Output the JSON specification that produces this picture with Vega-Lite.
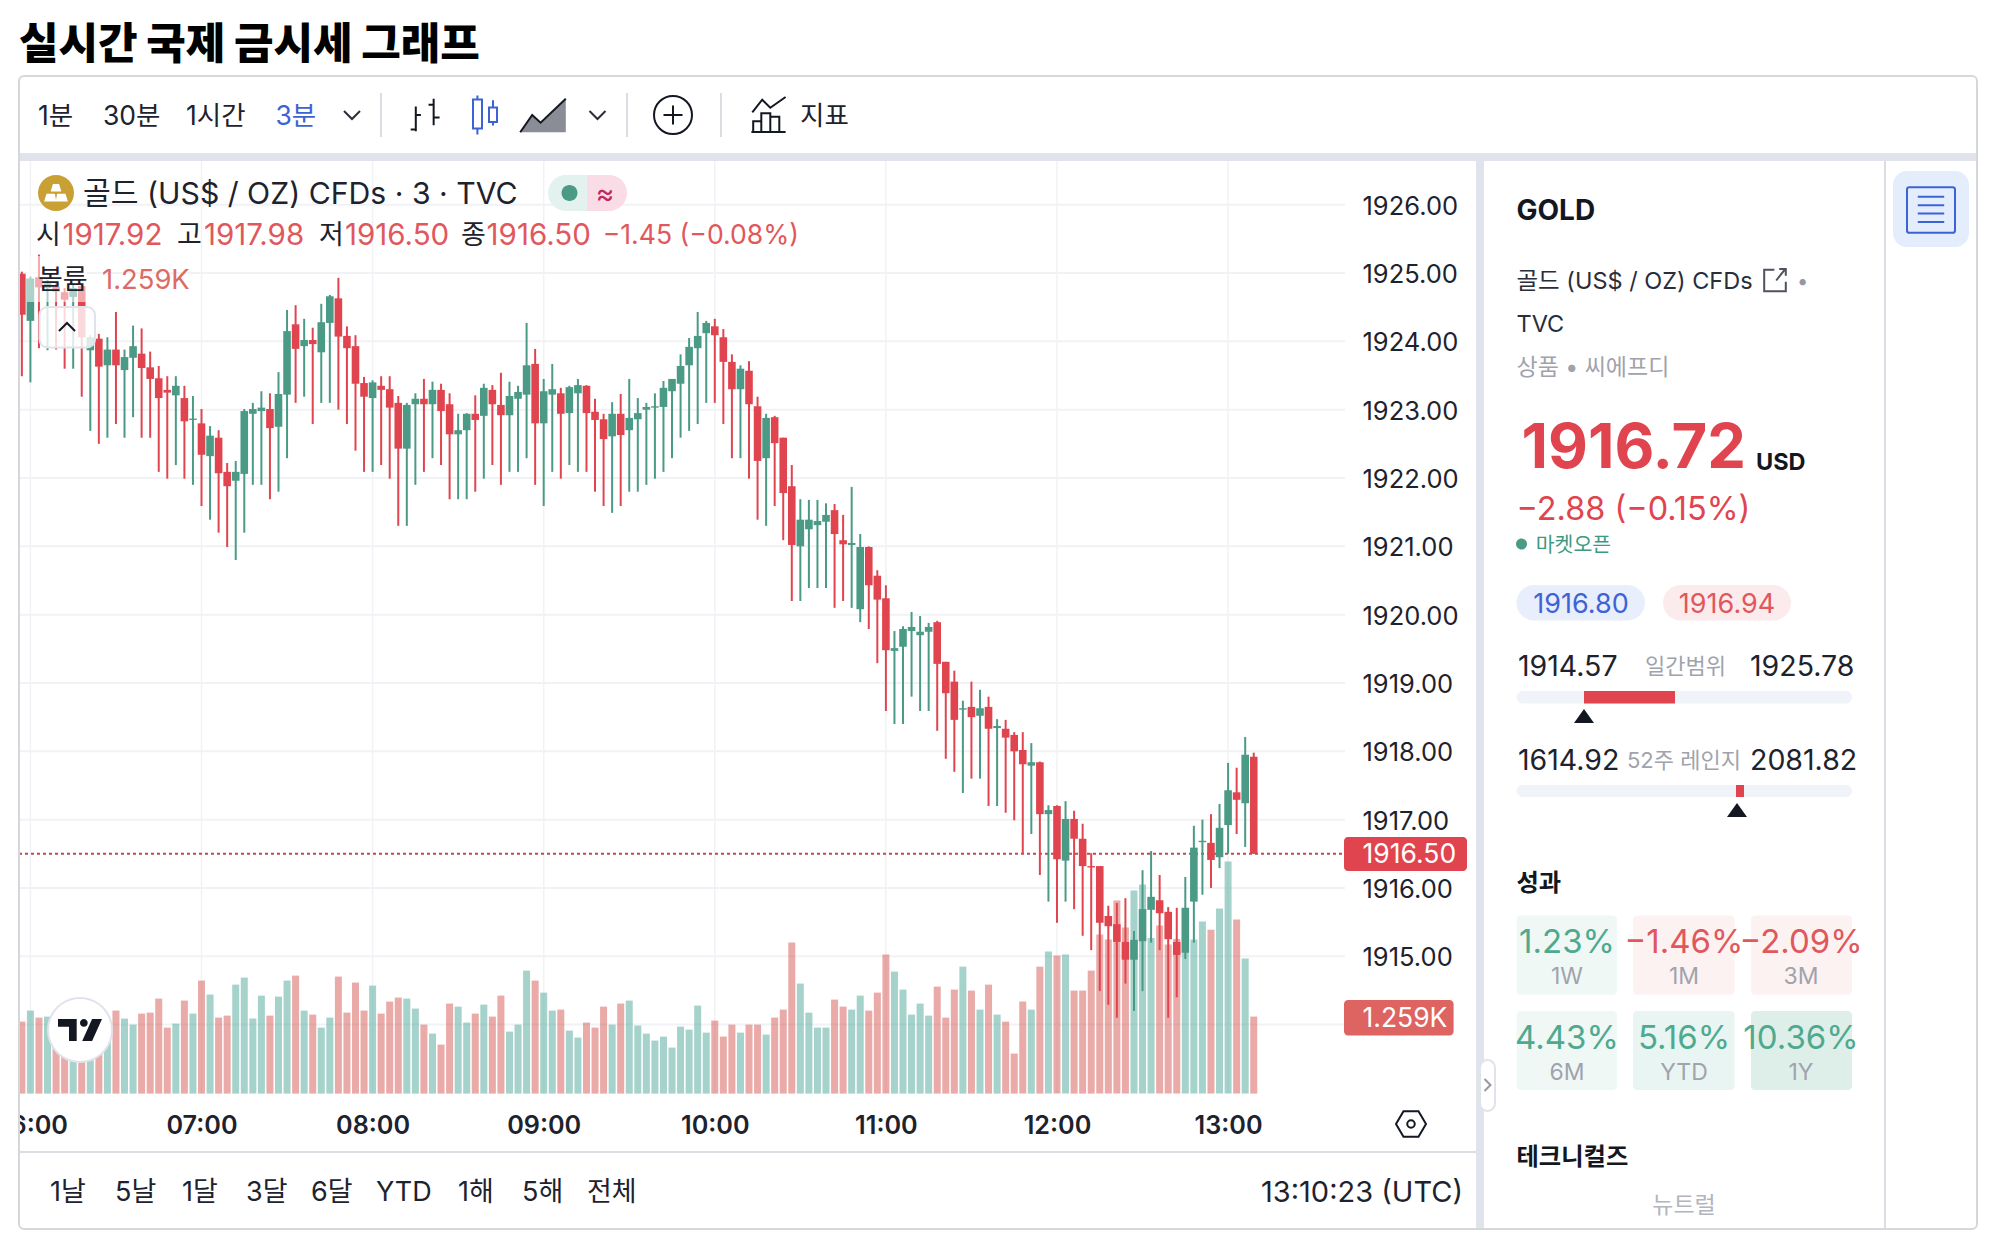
{
"$schema":"https://vega.github.io/schema/vega-lite/v6.json",
"width":2006,"height":1244,"autosize":{"type":"none"},"padding":0,"background":"#ffffff",
"config":{"view":{"stroke":null},"font":"Inter, 'Noto Sans CJK KR'"},
"datasets":{"bars":[
{"t":"2023-10-03T05:57Z","o":1924.99,"h":1925.02,"l":1923.49,"c":1924.39,"v":1177},
{"t":"2023-10-03T06:00Z","o":1924.30,"h":1924.95,"l":1923.40,"c":1924.92,"v":1357},
{"t":"2023-10-03T06:03Z","o":1924.94,"h":1925.27,"l":1923.90,"c":1924.79,"v":1243},
{"t":"2023-10-03T06:06Z","o":1924.78,"h":1924.90,"l":1923.87,"c":1924.85,"v":1259},
{"t":"2023-10-03T06:09Z","o":1924.80,"h":1924.85,"l":1923.88,"c":1924.73,"v":1046},
{"t":"2023-10-03T06:12Z","o":1924.72,"h":1924.78,"l":1923.60,"c":1924.61,"v":937},
{"t":"2023-10-03T06:15Z","o":1924.65,"h":1924.83,"l":1923.60,"c":1924.78,"v":1046},
{"t":"2023-10-03T06:18Z","o":1924.81,"h":1924.83,"l":1923.19,"c":1924.06,"v":1046},
{"t":"2023-10-03T06:21Z","o":1923.87,"h":1924.09,"l":1922.69,"c":1924.06,"v":1046},
{"t":"2023-10-03T06:24Z","o":1924.04,"h":1924.11,"l":1922.50,"c":1923.63,"v":992},
{"t":"2023-10-03T06:27Z","o":1923.65,"h":1924.06,"l":1922.59,"c":1923.88,"v":965},
{"t":"2023-10-03T06:30Z","o":1923.88,"h":1924.43,"l":1922.79,"c":1923.65,"v":1357},
{"t":"2023-10-03T06:33Z","o":1923.58,"h":1923.88,"l":1922.59,"c":1923.77,"v":1226},
{"t":"2023-10-03T06:36Z","o":1923.76,"h":1924.23,"l":1922.89,"c":1923.93,"v":1128},
{"t":"2023-10-03T06:39Z","o":1923.82,"h":1924.19,"l":1922.59,"c":1923.61,"v":1308},
{"t":"2023-10-03T06:42Z","o":1923.62,"h":1923.85,"l":1922.59,"c":1923.45,"v":1324},
{"t":"2023-10-03T06:45Z","o":1923.46,"h":1923.64,"l":1922.09,"c":1923.17,"v":1553},
{"t":"2023-10-03T06:48Z","o":1923.29,"h":1923.49,"l":1921.99,"c":1923.25,"v":1079},
{"t":"2023-10-03T06:51Z","o":1923.21,"h":1923.49,"l":1922.19,"c":1923.35,"v":1145},
{"t":"2023-10-03T06:54Z","o":1923.17,"h":1923.35,"l":1921.99,"c":1922.83,"v":1521},
{"t":"2023-10-03T06:57Z","o":1922.85,"h":1923.20,"l":1921.90,"c":1922.87,"v":1308},
{"t":"2023-10-03T07:00Z","o":1922.80,"h":1923.01,"l":1921.59,"c":1922.34,"v":1848},
{"t":"2023-10-03T07:03Z","o":1922.32,"h":1922.76,"l":1921.39,"c":1922.62,"v":1619},
{"t":"2023-10-03T07:06Z","o":1922.59,"h":1922.70,"l":1921.20,"c":1922.07,"v":1243},
{"t":"2023-10-03T07:09Z","o":1922.09,"h":1922.22,"l":1920.99,"c":1921.88,"v":1275},
{"t":"2023-10-03T07:12Z","o":1921.96,"h":1922.25,"l":1920.80,"c":1922.09,"v":1782},
{"t":"2023-10-03T07:15Z","o":1922.06,"h":1923.01,"l":1921.20,"c":1922.98,"v":1897},
{"t":"2023-10-03T07:18Z","o":1922.94,"h":1923.10,"l":1921.90,"c":1923.01,"v":1226},
{"t":"2023-10-03T07:21Z","o":1922.98,"h":1923.27,"l":1921.90,"c":1923.03,"v":1602},
{"t":"2023-10-03T07:24Z","o":1923.01,"h":1923.24,"l":1921.69,"c":1922.73,"v":1275},
{"t":"2023-10-03T07:27Z","o":1922.75,"h":1923.55,"l":1921.80,"c":1923.23,"v":1586},
{"t":"2023-10-03T07:30Z","o":1923.22,"h":1924.46,"l":1922.29,"c":1924.15,"v":1848},
{"t":"2023-10-03T07:33Z","o":1924.25,"h":1924.53,"l":1923.10,"c":1923.89,"v":1929},
{"t":"2023-10-03T07:36Z","o":1923.93,"h":1924.33,"l":1923.19,"c":1924.02,"v":1357},
{"t":"2023-10-03T07:39Z","o":1924.02,"h":1924.20,"l":1922.79,"c":1923.96,"v":1292},
{"t":"2023-10-03T07:42Z","o":1923.84,"h":1924.55,"l":1923.10,"c":1924.28,"v":1079},
{"t":"2023-10-03T07:45Z","o":1924.27,"h":1924.68,"l":1923.10,"c":1924.66,"v":1243},
{"t":"2023-10-03T07:48Z","o":1924.63,"h":1924.93,"l":1923.00,"c":1924.07,"v":1913},
{"t":"2023-10-03T07:51Z","o":1924.08,"h":1924.22,"l":1922.79,"c":1923.90,"v":1324},
{"t":"2023-10-03T07:54Z","o":1923.93,"h":1924.09,"l":1922.40,"c":1923.38,"v":1815},
{"t":"2023-10-03T07:57Z","o":1923.39,"h":1923.48,"l":1922.09,"c":1923.19,"v":1357},
{"t":"2023-10-03T08:00Z","o":1923.17,"h":1923.43,"l":1922.09,"c":1923.40,"v":1766},
{"t":"2023-10-03T08:03Z","o":1923.35,"h":1923.49,"l":1922.19,"c":1923.29,"v":1308},
{"t":"2023-10-03T08:06Z","o":1923.30,"h":1923.49,"l":1921.99,"c":1923.03,"v":1504},
{"t":"2023-10-03T08:09Z","o":1923.10,"h":1923.20,"l":1921.30,"c":1922.43,"v":1570},
{"t":"2023-10-03T08:12Z","o":1922.43,"h":1923.10,"l":1921.30,"c":1923.07,"v":1553},
{"t":"2023-10-03T08:15Z","o":1923.08,"h":1923.24,"l":1921.90,"c":1923.16,"v":1390},
{"t":"2023-10-03T08:18Z","o":1923.16,"h":1923.45,"l":1922.09,"c":1923.08,"v":1128},
{"t":"2023-10-03T08:21Z","o":1923.08,"h":1923.41,"l":1922.29,"c":1923.29,"v":981},
{"t":"2023-10-03T08:24Z","o":1923.29,"h":1923.38,"l":1922.19,"c":1922.98,"v":801},
{"t":"2023-10-03T08:27Z","o":1923.08,"h":1923.24,"l":1921.69,"c":1922.64,"v":1472},
{"t":"2023-10-03T08:30Z","o":1922.64,"h":1922.94,"l":1921.69,"c":1922.70,"v":1422},
{"t":"2023-10-03T08:33Z","o":1922.70,"h":1922.95,"l":1921.69,"c":1922.94,"v":1161},
{"t":"2023-10-03T08:36Z","o":1922.94,"h":1923.21,"l":1921.80,"c":1922.85,"v":1308},
{"t":"2023-10-03T08:39Z","o":1922.91,"h":1923.38,"l":1921.99,"c":1923.32,"v":1455},
{"t":"2023-10-03T08:42Z","o":1923.29,"h":1923.36,"l":1922.19,"c":1923.08,"v":1259},
{"t":"2023-10-03T08:45Z","o":1923.07,"h":1923.54,"l":1921.90,"c":1922.92,"v":1602},
{"t":"2023-10-03T08:48Z","o":1922.92,"h":1923.41,"l":1922.09,"c":1923.20,"v":1014},
{"t":"2023-10-03T08:51Z","o":1923.16,"h":1923.35,"l":1922.09,"c":1923.26,"v":1128},
{"t":"2023-10-03T08:54Z","o":1923.22,"h":1924.27,"l":1922.29,"c":1923.65,"v":2011},
{"t":"2023-10-03T08:57Z","o":1923.67,"h":1923.89,"l":1921.90,"c":1922.80,"v":1848},
{"t":"2023-10-03T09:00Z","o":1922.80,"h":1923.45,"l":1921.59,"c":1923.27,"v":1651},
{"t":"2023-10-03T09:03Z","o":1923.22,"h":1923.67,"l":1922.09,"c":1923.30,"v":1357},
{"t":"2023-10-03T09:06Z","o":1923.24,"h":1923.32,"l":1921.99,"c":1922.94,"v":1373},
{"t":"2023-10-03T09:09Z","o":1922.95,"h":1923.35,"l":1922.19,"c":1923.33,"v":1030},
{"t":"2023-10-03T09:12Z","o":1923.24,"h":1923.45,"l":1922.09,"c":1923.36,"v":916},
{"t":"2023-10-03T09:15Z","o":1923.35,"h":1923.36,"l":1922.09,"c":1922.95,"v":1161},
{"t":"2023-10-03T09:18Z","o":1922.97,"h":1923.16,"l":1921.80,"c":1922.85,"v":1079},
{"t":"2023-10-03T09:21Z","o":1922.86,"h":1922.94,"l":1921.59,"c":1922.57,"v":1422},
{"t":"2023-10-03T09:24Z","o":1922.61,"h":1923.11,"l":1921.49,"c":1922.94,"v":1128},
{"t":"2023-10-03T09:27Z","o":1922.94,"h":1923.23,"l":1921.59,"c":1922.63,"v":1472},
{"t":"2023-10-03T09:30Z","o":1922.70,"h":1923.45,"l":1921.80,"c":1922.88,"v":1521},
{"t":"2023-10-03T09:33Z","o":1922.86,"h":1923.17,"l":1921.80,"c":1922.95,"v":1112},
{"t":"2023-10-03T09:36Z","o":1923.00,"h":1923.10,"l":1921.90,"c":1923.04,"v":981},
{"t":"2023-10-03T09:39Z","o":1923.03,"h":1923.24,"l":1921.99,"c":1923.05,"v":867},
{"t":"2023-10-03T09:42Z","o":1923.04,"h":1923.42,"l":1922.09,"c":1923.32,"v":932},
{"t":"2023-10-03T09:45Z","o":1923.27,"h":1923.45,"l":1922.29,"c":1923.45,"v":752},
{"t":"2023-10-03T09:48Z","o":1923.38,"h":1923.81,"l":1922.59,"c":1923.64,"v":1095},
{"t":"2023-10-03T09:51Z","o":1923.65,"h":1924.05,"l":1922.69,"c":1923.92,"v":1046},
{"t":"2023-10-03T09:54Z","o":1923.90,"h":1924.43,"l":1922.79,"c":1924.08,"v":1439},
{"t":"2023-10-03T09:57Z","o":1924.12,"h":1924.30,"l":1923.10,"c":1924.27,"v":997},
{"t":"2023-10-03T10:00Z","o":1924.22,"h":1924.33,"l":1923.10,"c":1924.09,"v":1194},
{"t":"2023-10-03T10:03Z","o":1924.06,"h":1924.18,"l":1922.79,"c":1923.70,"v":932},
{"t":"2023-10-03T10:06Z","o":1923.70,"h":1923.81,"l":1922.29,"c":1923.30,"v":1128},
{"t":"2023-10-03T10:09Z","o":1923.30,"h":1923.65,"l":1922.29,"c":1923.60,"v":997},
{"t":"2023-10-03T10:12Z","o":1923.57,"h":1923.71,"l":1921.99,"c":1923.08,"v":1128},
{"t":"2023-10-03T10:15Z","o":1923.05,"h":1923.19,"l":1921.39,"c":1922.25,"v":1128},
{"t":"2023-10-03T10:18Z","o":1922.29,"h":1922.94,"l":1921.30,"c":1922.88,"v":965},
{"t":"2023-10-03T10:21Z","o":1922.89,"h":1922.91,"l":1921.59,"c":1922.51,"v":1243},
{"t":"2023-10-03T10:24Z","o":1922.59,"h":1922.59,"l":1921.09,"c":1921.78,"v":1373},
{"t":"2023-10-03T10:27Z","o":1921.88,"h":1922.19,"l":1920.20,"c":1921.02,"v":2469},
{"t":"2023-10-03T10:30Z","o":1921.00,"h":1921.69,"l":1920.20,"c":1921.39,"v":1799},
{"t":"2023-10-03T10:33Z","o":1921.25,"h":1921.68,"l":1920.39,"c":1921.39,"v":1324},
{"t":"2023-10-03T10:36Z","o":1921.31,"h":1921.68,"l":1920.39,"c":1921.37,"v":1079},
{"t":"2023-10-03T10:39Z","o":1921.36,"h":1921.63,"l":1920.39,"c":1921.46,"v":1079},
{"t":"2023-10-03T10:42Z","o":1921.53,"h":1921.62,"l":1920.10,"c":1921.18,"v":1537},
{"t":"2023-10-03T10:45Z","o":1921.09,"h":1921.46,"l":1920.20,"c":1921.03,"v":1422},
{"t":"2023-10-03T10:48Z","o":1921.02,"h":1921.87,"l":1920.10,"c":1921.05,"v":1373},
{"t":"2023-10-03T10:51Z","o":1920.08,"h":1921.18,"l":1919.89,"c":1920.99,"v":1602},
{"t":"2023-10-03T10:54Z","o":1920.99,"h":1921.00,"l":1919.79,"c":1920.43,"v":1357},
{"t":"2023-10-03T10:57Z","o":1920.57,"h":1920.65,"l":1919.29,"c":1920.22,"v":1651},
{"t":"2023-10-03T11:00Z","o":1920.24,"h":1920.43,"l":1918.59,"c":1919.48,"v":2273},
{"t":"2023-10-03T11:03Z","o":1919.47,"h":1919.76,"l":1918.40,"c":1919.51,"v":1995},
{"t":"2023-10-03T11:06Z","o":1919.53,"h":1919.83,"l":1918.40,"c":1919.79,"v":1700},
{"t":"2023-10-03T11:09Z","o":1919.76,"h":1920.04,"l":1918.80,"c":1919.82,"v":1292},
{"t":"2023-10-03T11:12Z","o":1919.70,"h":1919.98,"l":1918.59,"c":1919.75,"v":1472},
{"t":"2023-10-03T11:15Z","o":1919.75,"h":1919.88,"l":1918.59,"c":1919.82,"v":1275},
{"t":"2023-10-03T11:18Z","o":1919.89,"h":1919.91,"l":1918.30,"c":1919.28,"v":1749},
{"t":"2023-10-03T11:21Z","o":1919.31,"h":1919.31,"l":1917.89,"c":1918.85,"v":1243},
{"t":"2023-10-03T11:24Z","o":1919.02,"h":1919.18,"l":1917.70,"c":1918.46,"v":1700},
{"t":"2023-10-03T11:27Z","o":1918.61,"h":1918.74,"l":1917.39,"c":1918.63,"v":2076},
{"t":"2023-10-03T11:30Z","o":1918.65,"h":1919.02,"l":1917.60,"c":1918.50,"v":1684},
{"t":"2023-10-03T11:33Z","o":1918.52,"h":1918.90,"l":1917.60,"c":1918.63,"v":1373},
{"t":"2023-10-03T11:36Z","o":1918.65,"h":1918.80,"l":1917.20,"c":1918.33,"v":1782},
{"t":"2023-10-03T11:39Z","o":1918.34,"h":1918.47,"l":1917.20,"c":1918.37,"v":1292},
{"t":"2023-10-03T11:42Z","o":1918.33,"h":1918.46,"l":1917.10,"c":1918.20,"v":1177},
{"t":"2023-10-03T11:45Z","o":1918.24,"h":1918.28,"l":1916.99,"c":1918.00,"v":654},
{"t":"2023-10-03T11:48Z","o":1918.02,"h":1918.28,"l":1916.50,"c":1917.81,"v":1504},
{"t":"2023-10-03T11:51Z","o":1917.79,"h":1918.12,"l":1916.79,"c":1917.84,"v":1373},
{"t":"2023-10-03T11:54Z","o":1917.84,"h":1917.85,"l":1916.19,"c":1917.08,"v":2076},
{"t":"2023-10-03T11:57Z","o":1917.08,"h":1917.21,"l":1915.80,"c":1917.14,"v":2322},
{"t":"2023-10-03T12:00Z","o":1917.20,"h":1917.21,"l":1915.49,"c":1916.42,"v":2256},
{"t":"2023-10-03T12:03Z","o":1916.40,"h":1917.27,"l":1915.80,"c":1917.01,"v":2273},
{"t":"2023-10-03T12:06Z","o":1917.01,"h":1917.13,"l":1915.69,"c":1916.72,"v":1684},
{"t":"2023-10-03T12:09Z","o":1916.72,"h":1916.94,"l":1915.30,"c":1916.32,"v":1684},
{"t":"2023-10-03T12:12Z","o":1916.32,"h":1916.51,"l":1915.09,"c":1916.30,"v":2011},
{"t":"2023-10-03T12:15Z","o":1916.32,"h":1916.32,"l":1914.49,"c":1915.49,"v":2600},
{"t":"2023-10-03T12:18Z","o":1915.59,"h":1915.74,"l":1914.29,"c":1915.44,"v":2518},
{"t":"2023-10-03T12:21Z","o":1915.47,"h":1915.78,"l":1914.10,"c":1915.21,"v":3156},
{"t":"2023-10-03T12:24Z","o":1915.21,"h":1915.85,"l":1914.60,"c":1914.95,"v":2714},
{"t":"2023-10-03T12:27Z","o":1914.95,"h":1915.37,"l":1914.20,"c":1915.24,"v":3319},
{"t":"2023-10-03T12:30Z","o":1915.22,"h":1916.26,"l":1914.49,"c":1915.69,"v":3417},
{"t":"2023-10-03T12:33Z","o":1915.68,"h":1916.54,"l":1915.20,"c":1915.87,"v":2545},
{"t":"2023-10-03T12:36Z","o":1915.82,"h":1916.19,"l":1915.09,"c":1915.63,"v":2747},
{"t":"2023-10-03T12:39Z","o":1915.65,"h":1915.72,"l":1914.10,"c":1915.25,"v":2436},
{"t":"2023-10-03T12:42Z","o":1915.21,"h":1915.71,"l":1914.40,"c":1915.02,"v":2529},
{"t":"2023-10-03T12:45Z","o":1915.05,"h":1916.16,"l":1914.96,"c":1915.71,"v":2300},
{"t":"2023-10-03T12:48Z","o":1915.80,"h":1916.91,"l":1915.20,"c":1916.59,"v":2518},
{"t":"2023-10-03T12:51Z","o":1916.67,"h":1917.00,"l":1915.90,"c":1916.69,"v":2812},
{"t":"2023-10-03T12:54Z","o":1916.66,"h":1917.08,"l":1916.00,"c":1916.41,"v":2681},
{"t":"2023-10-03T12:57Z","o":1916.45,"h":1917.23,"l":1916.29,"c":1916.88,"v":3025},
{"t":"2023-10-03T13:00Z","o":1916.92,"h":1917.83,"l":1916.50,"c":1917.43,"v":3793},
{"t":"2023-10-03T13:03Z","o":1917.40,"h":1917.76,"l":1916.79,"c":1917.29,"v":2845},
{"t":"2023-10-03T13:06Z","o":1917.24,"h":1918.21,"l":1916.60,"c":1917.95,"v":2207},
{"t":"2023-10-03T13:09Z","o":1917.92,"h":1917.98,"l":1916.50,"c":1916.50,"v":1259}
],
"levels":[
{"p":1914,"a":"2023-10-03T05:56Z","b":"2023-10-03T13:41Z"},{"p":1915,"a":"2023-10-03T05:56Z","b":"2023-10-03T13:41Z"},{"p":1916,"a":"2023-10-03T05:56Z","b":"2023-10-03T13:41Z"},{"p":1917,"a":"2023-10-03T05:56Z","b":"2023-10-03T13:41Z"},{"p":1918,"a":"2023-10-03T05:56Z","b":"2023-10-03T13:41Z"},{"p":1919,"a":"2023-10-03T05:56Z","b":"2023-10-03T13:41Z"},{"p":1920,"a":"2023-10-03T05:56Z","b":"2023-10-03T13:41Z"},{"p":1921,"a":"2023-10-03T05:56Z","b":"2023-10-03T13:41Z"},{"p":1922,"a":"2023-10-03T05:56Z","b":"2023-10-03T13:41Z"},{"p":1923,"a":"2023-10-03T05:56Z","b":"2023-10-03T13:41Z"},{"p":1924,"a":"2023-10-03T05:56Z","b":"2023-10-03T13:41Z"},{"p":1925,"a":"2023-10-03T05:56Z","b":"2023-10-03T13:41Z"},{"p":1926,"a":"2023-10-03T05:56Z","b":"2023-10-03T13:41Z"}
],
"last":[{"p":1916.5,"a":"2023-10-03T05:56Z","b":"2023-10-03T13:41Z"}],
"hours":[{"t":"2023-10-03T06:00Z"},{"t":"2023-10-03T07:00Z"},{"t":"2023-10-03T08:00Z"},{"t":"2023-10-03T09:00Z"},{"t":"2023-10-03T10:00Z"},{"t":"2023-10-03T11:00Z"},{"t":"2023-10-03T12:00Z"},{"t":"2023-10-03T13:00Z"}],
"ui":[
{"g":"r18","k":"pg","c":36,"c2":38,"r":9,"r2":12},{"g":"r18","k":"pp","c":38,"c2":42,"r":9,"r2":12},{"g":"r18","k":"bidbg","c":57,"c2":67,"r":28,"r2":30},{"g":"r18","k":"askbg","c":68,"c2":80,"r":28,"r2":30},
{"g":"r6","k":"trk","c":57,"c2":83,"r":32,"r2":33},{"g":"r6","k":"trk","c":57,"c2":83,"r":36,"r2":37},
{"g":"r12","k":"lst","c":85,"c2":87,"r":8,"r2":14},
{"g":"r4","k":"ce1","c":57,"c2":64,"r":43,"r2":46},{"g":"r4","k":"ce2","c":66,"c2":72,"r":43,"r2":46},{"g":"r4","k":"ce2","c":77,"c2":83,"r":43,"r2":46},
{"g":"r4","k":"ce1","c":57,"c2":64,"r":48,"r2":56},{"g":"r4","k":"ce3","c":66,"c2":72,"r":48,"r2":56},{"g":"r4","k":"ce4","c":77,"c2":83,"r":48,"r2":56},
{"g":"r4","k":"ptag","c":48,"c2":51,"r":39,"r2":41},{"g":"r4","k":"vtag","c":48,"c2":50,"r":47,"r2":51},
{"g":"r0","k":"strip","c":1,"c2":88,"r":6,"r2":7},{"g":"r0","k":"strip","c":52,"c2":54,"r":7,"r2":63},{"g":"r0","k":"veil","c":2,"c2":12,"r":15,"r2":18},{"g":"r0","k":"white","c":0,"c2":1,"r":7,"r2":63},
{"g":"r0","k":"pg","c":37,"c2":38,"r":9,"r2":12},{"g":"r0","k":"pp","c":38,"c2":41,"r":9,"r2":12},{"g":"r0","k":"red","c":63,"c2":69,"r":32,"r2":33},{"g":"r0","k":"red","c":73,"c2":75,"r":36,"r2":37},
{"g":"box","k":"veil2","c":5,"c2":13,"r":19,"r2":22},{"g":"box","k":"white","c":53,"c2":56,"r":53,"r2":57},
{"g":"frame","k":"sep","c":1,"c2":88,"r":2,"r2":63},
{"g":"line","k":"sep","c":28,"c2":28,"r":3,"r2":5},{"g":"line","k":"sep","c":42,"c2":42,"r":3,"r2":5},{"g":"line","k":"sep","c":44,"c2":44,"r":3,"r2":5},{"g":"line","k":"sep","c":84,"c2":84,"r":7,"r2":63},{"g":"line","k":"sep","c":1,"c2":52,"r":59,"r2":59},
{"g":"tl","k":"tb","t":"1분","c":4,"r":4},{"g":"tl","k":"tb","t":"30분","c":15,"r":4},{"g":"tl","k":"tb","t":"1시간","c":19,"r":4},{"g":"tl","k":"tba","t":"3분","c":22,"r":4},{"g":"tl","k":"tb","t":"지표","c":46,"r":4},
{"g":"tl","k":"hd","t":"골드 (US$ / OZ) CFDs · 3 · TVC","c":11,"r":10},
{"g":"tl","k":"leg","t":"시","c":3,"r":13},{"g":"tl","k":"lv","t":"1917.92","c":8,"r":13},{"g":"tl","k":"leg","t":"고","c":17,"r":13},{"g":"tl","k":"lv","t":"1917.98","c":20,"r":13},{"g":"tl","k":"leg","t":"저","c":24,"r":13},{"g":"tl","k":"lv","t":"1916.50","c":25,"r":13},{"g":"tl","k":"leg","t":"종","c":31,"r":13},{"g":"tl","k":"lv","t":"1916.50","c":33,"r":13},{"g":"tl","k":"lc","t":"−1.45 (−0.08%)","c":40,"r":13},
{"g":"tl","k":"leg","t":"볼륨","c":4,"r":16},{"g":"tl","k":"vl","t":"1.259K","c":14,"r":16},
{"g":"tl","k":"rg","t":"1날","c":6,"r":61},{"g":"tl","k":"rg","t":"5날","c":16,"r":61},{"g":"tl","k":"rg","t":"1달","c":18,"r":61},{"g":"tl","k":"rg","t":"3달","c":21,"r":61},{"g":"tl","k":"rg","t":"6달","c":23,"r":61},{"g":"tl","k":"rg","t":"YTD","c":27,"r":61},{"g":"tl","k":"rg","t":"1해","c":30,"r":61},{"g":"tl","k":"rg","t":"5해","c":34,"r":61},{"g":"tl","k":"rg","t":"전체","c":38,"r":61},{"g":"tl","k":"clk","t":"13:10:23 (UTC)","c":47,"r":61},
{"g":"tl","k":"tag","t":"1916.50","c":48.5,"r":40},{"g":"tl","k":"tag","t":"1.259K","c":48.5,"r":49},
{"g":"tl","k":"pn","t":"골드 (US$ / OZ) CFDs","c":57,"r":17},{"g":"tl","k":"dotg","t":"•","c":80.5,"r":17},{"g":"tl","k":"pn","t":"TVC","c":57,"r":20},{"g":"tl","k":"gr2","t":"상품 • 씨에프디","c":57,"r":23},
{"g":"tl","k":"chg","t":"−2.88 (−0.15%)","c":57,"r":26},{"g":"tl","k":"mk","t":"마켓오픈","c":60,"r":27},
{"g":"tl","k":"pv","t":"1914.57","c":58,"r":31},{"g":"tl","k":"gr","t":"일간범위","c":67,"r":31},{"g":"tl","k":"pv","t":"1925.78","c":76,"r":31},{"g":"tl","k":"pv","t":"1614.92","c":58,"r":35},{"g":"tl","k":"gr","t":"52주 레인지","c":65,"r":35},{"g":"tl","k":"pv","t":"2081.82","c":76,"r":35},
{"g":"th","k":"ttl","t":"실시간 국제 금시세 그래프","c":1,"r":1},
{"g":"tb","k":"gd","t":"GOLD","c":57,"r":11},{"g":"tb","k":"big","t":"1916.72","c":59,"r":24},{"g":"tb","k":"usd","t":"USD","c":78,"r":25},{"g":"tb","k":"sec","t":"성과","c":57,"r":42},{"g":"tb","k":"sec","t":"테크니컬즈","c":57,"r":60},
{"g":"tc","k":"apx","t":"≈","c":41,"r":10},{"g":"tc","k":"bid","t":"1916.80","c":62,"r":29},{"g":"tc","k":"ask","t":"1916.94","c":71,"r":29},
{"g":"tc","k":"up","t":"1.23%","c":61,"r":44},{"g":"tc","k":"dn","t":"−1.46%","c":70,"r":44},{"g":"tc","k":"dn","t":"−2.09%","c":81,"r":44},{"g":"tc","k":"up","t":"4.43%","c":61,"r":52},{"g":"tc","k":"up","t":"5.16%","c":70,"r":52},{"g":"tc","k":"up","t":"10.36%","c":81,"r":52},
{"g":"tc","k":"sub","t":"1W","c":61,"r":45},{"g":"tc","k":"sub","t":"1M","c":70,"r":45},{"g":"tc","k":"sub","t":"3M","c":81,"r":45},{"g":"tc","k":"sub","t":"6M","c":61,"r":54},{"g":"tc","k":"sub","t":"YTD","c":70,"r":54},{"g":"tc","k":"sub","t":"1Y","c":81,"r":54},{"g":"tc","k":"neu","t":"뉴트럴","c":70,"r":62},
{"g":"icf","k":"gold","c":7,"r":10},{"g":"icf","k":"gbars","c":7,"r":10},{"g":"icf","k":"tvo","c":10,"r":50},{"g":"icf","k":"tvi","c":10,"r":50},{"g":"icf","k":"tvg","c":10,"r":50},{"g":"icf","k":"mdot","c":37,"r":10},{"g":"icf","k":"ldot","c":59,"r":27},{"g":"icf","k":"tri","c":63,"r":34},{"g":"icf","k":"tri","c":74,"r":38},{"g":"icf","k":"arf","c":35,"r":4},
{"g":"ics","k":"chd","c":26,"r":4},{"g":"ics","k":"chd","c":39,"r":4},{"g":"ics","k":"chu","c":9,"r":21},{"g":"ics","k":"chr","c":55,"r":55},{"g":"ics","k":"ohlc","c":29,"r":4},{"g":"ics","k":"cndl","c":32,"r":4},{"g":"ics","k":"area","c":35,"r":4},{"g":"ics","k":"plus","c":43,"r":4},{"g":"ics","k":"ind","c":45,"r":4},{"g":"ics","k":"hex","c":49,"r":58},{"g":"ics","k":"ext","c":79,"r":17},{"g":"ics","k":"list","c":86,"r":11}
]},
"resolve":{"scale":{"x":"independent","y":"independent"}},
"layer":[
{"data":{"name":"levels","format":{"parse":{"a":"date","b":"date"}}},
"mark":{"type":"rule","color":"#f1f2f5","strokeWidth":2},
"encoding":{
"x":{"field":"a","type":"temporal","scale":{"type":"utc","domain":[{"year":2023,"month":10,"date":3,"hours":5,"minutes":56,"utc":true},{"year":2023,"month":10,"date":3,"hours":13,"minutes":41,"utc":true}],"range":[19,1345]},
"axis":{"orient":"bottom","offset":-150,"title":null,"domain":false,"ticks":false,"grid":false,"format":"%H:%M","values":[{"year":2023,"month":10,"date":3,"hours":6,"utc":true},{"year":2023,"month":10,"date":3,"hours":7,"utc":true},{"year":2023,"month":10,"date":3,"hours":8,"utc":true},{"year":2023,"month":10,"date":3,"hours":9,"utc":true},{"year":2023,"month":10,"date":3,"hours":10,"utc":true},{"year":2023,"month":10,"date":3,"hours":11,"utc":true},{"year":2023,"month":10,"date":3,"hours":12,"utc":true},{"year":2023,"month":10,"date":3,"hours":13,"utc":true}],"labelPadding":19.5,"labelFontSize":25.2,"labelFontWeight":600,"labelColor":"#1e222d","labelFlush":false,"labelOverlap":false,"labelBound":false,"labelFont":"Inter"}},
"x2":{"field":"b"},
"y":{"field":"p","type":"quantitative","scale":{"domain":[1912.99,1926.64],"range":[1093.6,161],"nice":false,"zero":false},
"axis":{"orient":"right","offset":-662,"title":null,"domain":false,"ticks":false,"grid":false,"values":[1914,1915,1916,1917,1918,1919,1920,1921,1922,1923,1924,1925,1926],"format":".2f","labelPadding":18,"labelOffset":1.5,"labelFontSize":25.5,"labelColor":"#1e222d","labelFlush":false,"labelOverlap":false,"labelBound":false,"labelFont":"Inter"}}
}},
{"data":{"name":"hours"},
"mark":{"type":"rule","color":"#f1f2f5","strokeWidth":1.5},
"encoding":{
"x":{"field":"t","type":"temporal","axis":null,"scale":{"type":"utc","domain":[{"year":2023,"month":10,"date":3,"hours":5,"minutes":56,"utc":true},{"year":2023,"month":10,"date":3,"hours":13,"minutes":41,"utc":true}],"range":[19,1345]}},
"y":{"datum":1912.99,"type":"quantitative","axis":null,"scale":{"domain":[1912.99,1926.64],"range":[1093.6,161],"nice":false,"zero":false}},
"y2":{"datum":1926.64}
}},
{"data":{"name":"bars"},
"mark":{"type":"bar","size":7,"opacity":0.5},
"encoding":{
"x":{"field":"t","type":"temporal","axis":null,"scale":{"type":"utc","padding":0,"domain":[{"year":2023,"month":10,"date":3,"hours":5,"minutes":56,"utc":true},{"year":2023,"month":10,"date":3,"hours":13,"minutes":41,"utc":true}],"range":[19,1345]}},
"y":{"field":"v","type":"quantitative","axis":null,"stack":null,"scale":{"domain":[0,5000],"range":[1093.6,787.8],"nice":false,"zero":false}},
"color":{"condition":{"test":"datum.c>=datum.o","value":"#4ba597"},"value":"#d35551"}
}},
{"layer":[
{"data":{"name":"last","format":{"parse":{"a":"date","b":"date"}}},
"mark":{"type":"rule","color":"#bf4a4e","strokeWidth":2,"strokeDash":[3,3]},
"encoding":{"x":{"field":"a","type":"temporal","axis":null,"scale":{"type":"utc","padding":0,"domain":[{"year":2023,"month":10,"date":3,"hours":5,"minutes":56,"utc":true},{"year":2023,"month":10,"date":3,"hours":13,"minutes":41,"utc":true}],"range":[19,1345]}},"x2":{"field":"b"},
"y":{"field":"p","type":"quantitative","axis":null,"scale":{"domain":[1912.99,1926.64],"range":[1093.6,161],"nice":false,"zero":false}}}},
{"data":{"name":"bars"},
"encoding":{
"x":{"field":"t","type":"temporal","axis":null,"scale":{"type":"utc","padding":0,"domain":[{"year":2023,"month":10,"date":3,"hours":5,"minutes":56,"utc":true},{"year":2023,"month":10,"date":3,"hours":13,"minutes":41,"utc":true}],"range":[19,1345]}},
"color":{"condition":{"test":"datum.c>=datum.o","value":"#4a9a85"},"value":"#e0454f"}
},
"layer":[
{"mark":{"type":"rule","strokeWidth":2},"encoding":{"y":{"field":"l","type":"quantitative","axis":null,"scale":{"domain":[1912.99,1926.64],"range":[1093.6,161],"nice":false,"zero":false}},"y2":{"field":"h"}}},
{"mark":{"type":"bar","size":7.6},"encoding":{"y":{"field":"o","type":"quantitative","axis":null,"stack":null,"scale":{"domain":[1912.99,1926.64],"range":[1093.6,161],"nice":false,"zero":false}},"y2":{"field":"c"}}}
]}
]},
{"data":{"name":"ui"},
"encoding":{
"x":{"field":"c","type":"quantitative","axis":null,"scale":{"zero":false,"nice":false,
"domain":[0,1,2,3,4,5,6,7,8,9,10,11,12,13,14,15,16,17,18,19,20,21,22,23,24,25,26,27,28,29,30,31,32,33,34,35,36,37,38,39,40,41,42,43,44,45,46,47,48,48.5,49,50,51,52,53,54,55,56,57,58,59,60,61,62,63,64,65,66,67,68,69,70,71,72,73,74,75,76,77,78,79,80,80.5,81,82,83,84,85,86,87,88],
"range":[0,19,27,36,38,39.5,50,56,62.5,67,80,83,87,95,102,103,115,177,182,186,204,246,275.5,311,319,345,352,376,381,426,458,461,485,486.6,522,543,548,569.5,587,597.5,602.7,605,627,673,721,768.5,800,1261,1344,1362.5,1411,1453.6,1467,1476,1480,1484,1487.5,1495,1516.5,1518,1521.5,1535.7,1567,1581,1584,1617,1627,1633,1645,1663,1675,1684,1727,1734.6,1736,1737,1744,1750,1751,1756,1775,1791,1797,1801,1802,1852,1885,1893,1931,1969,1977]}},
"y":{"field":"r","type":"quantitative","axis":null,"scale":{"zero":false,"nice":false,
"domain":[0,1,2,3,4,5,6,7,8,9,10,11,12,13,14,15,16,17,18,19,20,21,22,23,24,25,26,27,28,29,30,31,32,33,34,35,36,37,38,39,40,41,42,43,44,45,46,47,48,49,50,51,52,53,54,55,56,57,58,59,60,61,62,63,64],
"range":[0,44,76,93,115,137,153,161,171,175,193,210,211,234.6,247,256,279,280.5,302,307,323,327,347.5,366,448,461,508,544,585,603,620.5,665,691,703.5,716,759,785,797,810,837,853.8,871,882.5,915.4,941.7,975,994.7,1000,1011,1017,1030,1035.5,1037.8,1060,1071.5,1085,1090,1111,1124,1152,1156.5,1191,1204.5,1229,1244]}},
"color":{"field":"k","type":"nominal","legend":null,"scale":{"type":"ordinal",
"domain":["pg","pp","bidbg","askbg","trk","lst","ce1","ce2","ce3","ce4","ptag","vtag","strip","veil","veil2","white","red","sep","tb","tba","hd","leg","lv","lc","vl","rg","clk","tag","pn","dotg","gr","gr2","chg","mk","pv","ttl","gd","big","usd","sec","apx","bid","ask","up","dn","sub","neu","gold","gbars","tvo","tvi","tvg","mdot","ldot","tri","arf","chd","chu","chr","ohlc","cndl","area","plus","ind","hex","ext","list"],
"range":["#e3f2ee","#f9dce5","#e8eefc","#fcebec","#f0f3fa","#e3edfc","#f0f8f6","#fdf2f2","#e9f5f2","#deefea","#e0454f","#dd6460","#e0e3eb","rgba(255,255,255,0.55)","rgba(255,255,255,0.8)","#ffffff","#e0454f","#dcdde2","#1e222d","#3c63d4","#1e222d","#1e222d","#e0575c","#e0575c","#dd6a63","#1e222d","#1e222d","#ffffff","#2a2e39","#9598a1","#a0a3ac","#a0a3ac","#e0454f","#3d9a80","#1e222d","#000000","#131722","#e0454f","#131722","#131722","#c2265e","#3d63d4","#e0575c","#4ea98f","#e0575c","#a0a3ac","#b2b5be","#c9a033","#ffffff","#e0e3eb","#ffffff","#131722","#4a9a85","#4a9a85","#131722","#8a8d95","#2a2e39","#131722","#9598a1","#131722","#3c63d4","#131722","#131722","#131722","#131722","#50535e","#3c63d4"]}}
},
"layer":[
{"transform":[{"filter":"datum.g=='r18'"}],"mark":{"type":"rect","cornerRadius":18},"encoding":{"x2":{"field":"c2"},"y2":{"field":"r2"}}},
{"transform":[{"filter":"datum.g=='r6'"}],"mark":{"type":"rect","cornerRadius":6},"encoding":{"x2":{"field":"c2"},"y2":{"field":"r2"}}},
{"transform":[{"filter":"datum.g=='r12'"}],"mark":{"type":"rect","cornerRadius":14},"encoding":{"x2":{"field":"c2"},"y2":{"field":"r2"}}},
{"transform":[{"filter":"datum.g=='r4'"}],"mark":{"type":"rect","cornerRadius":4},"encoding":{"x2":{"field":"c2"},"y2":{"field":"r2"}}},
{"transform":[{"filter":"datum.g=='r0'"}],"mark":{"type":"rect"},"encoding":{"x2":{"field":"c2"},"y2":{"field":"r2"}}},
{"transform":[{"filter":"datum.g=='box'"}],"mark":{"type":"rect","cornerRadius":8,"stroke":"#e0e3eb","strokeWidth":2},"encoding":{"x2":{"field":"c2"},"y2":{"field":"r2"}}},
{"transform":[{"filter":"datum.g=='frame'"}],"mark":{"type":"rect","cornerRadius":5,"fillOpacity":0,"stroke":"#d6d7db","strokeWidth":2},"encoding":{"x2":{"field":"c2"},"y2":{"field":"r2"}}},
{"transform":[{"filter":"datum.g=='line'"}],"mark":{"type":"rule","strokeWidth":2},"encoding":{"x2":{"field":"c2"},"y2":{"field":"r2"}}},
{"encoding":{"text":{"field":"t"},"size":{"field":"k","type":"nominal","legend":null,"scale":{"type":"ordinal",
"domain":["tb","tba","hd","leg","lv","lc","vl","rg","clk","tag","pn","dotg","gr","gr2","chg","mk","pv","ttl","gd","big","usd","sec","apx","bid","ask","up","dn","sub","neu","gold","gbars","tvo","tvi","tvg","mdot","ldot","tri","arf","chd","chu","chr","ohlc","cndl","area","plus","ind","hex","ext","list"],
"range":[26.5,26.5,30.2,27,29.5,26.6,27.4,27,29,26.5,23.5,20,22,23,32.4,20.5,28.5,43,28,61.5,23.5,24.3,28,27,27,33,33,23,23,1296,784,4356,3844,1936,256,121,400,2304,256,256,144,1156,1600,2304,1444,1296,900,576,2304]}}},
"layer":[
{"transform":[{"filter":"datum.g=='tl'"}],"mark":{"type":"text","align":"left","baseline":"middle","dy":1.5,"font":"Inter, 'Noto Sans CJK KR'"}},
{"transform":[{"filter":"datum.g=='tb'"}],"mark":{"type":"text","align":"left","baseline":"middle","dy":1.5,"fontWeight":700,"font":"Inter, 'Noto Sans CJK KR'"}},
{"transform":[{"filter":"datum.g=='th'"}],"mark":{"type":"text","align":"left","baseline":"middle","dy":1.5,"fontWeight":900,"font":"Inter, 'Noto Sans CJK KR'"}},
{"transform":[{"filter":"datum.g=='tc'"}],"mark":{"type":"text","align":"center","baseline":"middle","dy":1.5,"font":"Inter, 'Noto Sans CJK KR'"}}
]},
{"encoding":{
"size":{"field":"k","type":"nominal","legend":null,"scale":{"type":"ordinal",
"domain":["tb","tba","hd","leg","lv","lc","vl","rg","clk","tag","pn","dotg","gr","gr2","chg","mk","pv","ttl","gd","big","usd","sec","apx","bid","ask","up","dn","sub","neu","gold","gbars","tvo","tvi","tvg","mdot","ldot","tri","arf","chd","chu","chr","ohlc","cndl","area","plus","ind","hex","ext","list"],
"range":[26.5,26.5,30.2,27,29.5,26.6,27.4,27,29,26.5,23.5,20,22,23,32.4,20.5,28.5,43,28,61.5,23.5,24.3,28,27,27,33,33,23,23,1296,784,4356,3844,1936,256,121,400,2304,256,256,144,1156,1600,2304,1444,1296,900,576,2304]}},
"shape":{"field":"k","type":"nominal","legend":null,"scale":{"type":"ordinal",
"domain":["gold","gbars","tvo","tvi","tvg","mdot","ldot","tri","arf","chd","chu","chr","ohlc","cndl","area","plus","ind","hex","ext","list"],
"range":["M-1,0A1,1,0,1,1,1,0A1,1,0,1,1,-1,0Z","M-.22,-.65H.22L.38,-.1H-.38ZM-.68,.05H-.08L.02,.6H-.85ZM.08,.05H.68L.85,.6H-.02Z","M-1,0A1,1,0,1,1,1,0A1,1,0,1,1,-1,0Z","M-1,0A1,1,0,1,1,1,0A1,1,0,1,1,-1,0Z","M-1,-.5H-.15V.5H-.5V-.15H-1ZM.35,-.32A.17,.17,0,1,1,0,-.32A.17,.17,0,1,1,.35,-.32ZM.1,.5L.55,-.5H1L.55,.5Z","M-1,0A1,1,0,1,1,1,0A1,1,0,1,1,-1,0Z","M-1,0A1,1,0,1,1,1,0A1,1,0,1,1,-1,0Z","M-1,.7L0,-.7L1,.7Z","M-.95,.72L-.45,.0L-.1,.32L.95,-.68V.72Z","M-1,-.5L0,.5L1,-.5","M-1,.5L0,-.5L1,.5","M-.5,-1L.5,0L-.5,1","M-.6,-.5V.95M-.6,.85H-.9M-.6,0H-.3M.45,-.95V.6M.45,-.6H.15M.45,.15H.8","M-.6,-.77H-.15V.67H-.6ZM-.38,-.97V-.77M-.38,.67V.97M.2,-.37H.6V.35H.2ZM.4,-.74V-.37M.4,.35V.52","M-.95,.72L-.45,.0L-.1,.32L.95,-.68","M-1,0A1,1,0,1,1,1,0A1,1,0,1,1,-1,0ZM-.5,0H.5M0,-.5V.5","M-.9,-.15L-.35,-.85L.1,-.4L.95,-1M-.95,.95H.95M-.85,.95V.35H-.4V.95M-.4,.95V-.1H.1V.95M.1,.95V.1H.6V.95","M-1,0L-.5,-.85H.5L1,0L.5,.85H-.5ZM.25,0A.25,.25,0,1,1,-.25,0A.25,.25,0,1,1,.25,0Z","M-.05,-.9H-.9V.9H.9V.1M.85,-.95L.1,0M.35,-.95H.9V-.4","M-.9,-.95H.9Q1,-.95,1,-.85V.85Q1,.95,.9,.95H-.9Q-1,.95,-1,.85V-.85Q-1,-.95,-.9,-.95ZM-.55,-.55H.55M-.55,-.2H.55M-.55,.15H.55M-.55,.5H.55"]}}},
"layer":[
{"transform":[{"filter":"datum.g=='icf'"}],"mark":{"type":"point","filled":true,"opacity":1}},
{"transform":[{"filter":"datum.g=='ics'"}],"mark":{"type":"point","filled":false,"opacity":1,"strokeWidth":2}}
]}
]}
]}
